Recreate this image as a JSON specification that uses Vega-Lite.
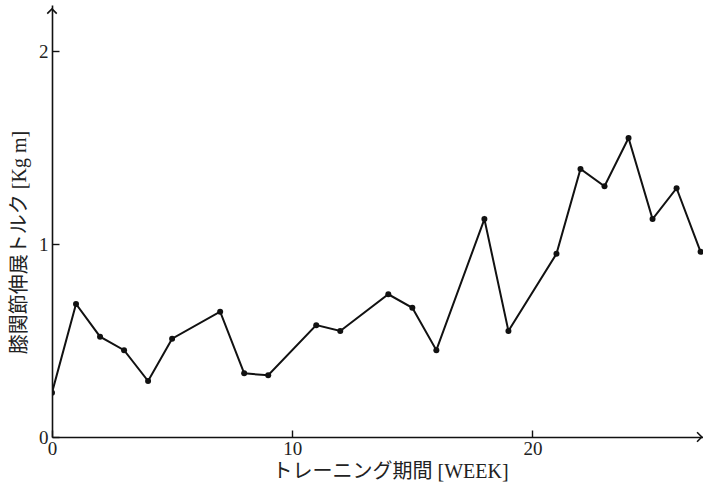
{
  "$schema": "https://vega.github.io/schema/vega-lite/v6.json",
  "width": 651,
  "height": 432,
  "autosize": {"type": "none"},
  "padding": {"left": 52, "top": 5, "right": 0, "bottom": 54},
  "background": "white",
  "config": {
    "view": {"stroke": null},
    "font": "Liberation Serif",
    "axis": {
      "domainColor": "#111",
      "domainWidth": 1.6,
      "tickColor": "#111",
      "tickWidth": 1.4,
      "grid": false,
      "labelColor": "#222",
      "titleColor": "#222",
      "labelFont": "Liberation Serif",
      "labelFontSize": 19,
      "labelFlush": false,
      "titleFont": "Liberation Serif, Noto Sans CJK JP",
      "titleFontSize": 20,
      "titleFontWeight": "normal"
    }
  },
  "datasets": {
    "torque": [
      {"week": 0, "torque": 0.23},
      {"week": 1, "torque": 0.69},
      {"week": 2, "torque": 0.52},
      {"week": 3, "torque": 0.45},
      {"week": 4, "torque": 0.29},
      {"week": 5, "torque": 0.51},
      {"week": 7, "torque": 0.65},
      {"week": 8, "torque": 0.33},
      {"week": 9, "torque": 0.32},
      {"week": 11, "torque": 0.58},
      {"week": 12, "torque": 0.55},
      {"week": 14, "torque": 0.74},
      {"week": 15, "torque": 0.67},
      {"week": 16, "torque": 0.45},
      {"week": 18, "torque": 1.13},
      {"week": 19, "torque": 0.55},
      {"week": 21, "torque": 0.95},
      {"week": 22, "torque": 1.39},
      {"week": 23, "torque": 1.3},
      {"week": 24, "torque": 1.55},
      {"week": 25, "torque": 1.13},
      {"week": 26, "torque": 1.29},
      {"week": 27, "torque": 0.96}
    ],
    "xarrow": [{"week": 27.05, "torque": 0}],
    "yarrow": [{"week": 0, "torque": 2.22}]
  },
  "layer": [
    {
      "data": {"name": "torque"},
      "mark": {"type": "line", "color": "#111", "strokeWidth": 2, "clip": true},
      "encoding": {
        "x": {
          "field": "week",
          "type": "quantitative",
          "scale": {"domain": [0, 27.1], "nice": false},
          "axis": {
            "values": [0, 10, 20],
            "format": "d",
            "tickSize": -7,
            "labelPadding": 9,
            "title": "トレーニング期間 [WEEK]",
            "titleX": 338,
            "titleY": 34,
            "titleBaseline": "middle",
            "titleAlign": "center"
          }
        },
        "y": {
          "field": "torque",
          "type": "quantitative",
          "scale": {"domain": [0, 2.24], "nice": false},
          "axis": {
            "values": [0, 1, 2],
            "format": "d",
            "tickSize": -7,
            "labelPadding": 11,
            "title": "膝関節伸展トルク [Kg m]",
            "titleX": -33,
            "titleY": 237,
            "titleBaseline": "middle",
            "titleAlign": "center",
            "titleAngle": -90
          }
        }
      }
    },
    {
      "data": {"name": "torque"},
      "mark": {"type": "point", "filled": true, "color": "#111", "size": 36, "opacity": 1, "clip": true},
      "encoding": {
        "x": {"field": "week", "type": "quantitative"},
        "y": {"field": "torque", "type": "quantitative"}
      }
    },
    {
      "data": {"name": "xarrow"},
      "mark": {"type": "point", "shape": "M-1,-1L0,0L-1,1", "filled": false, "color": "#111", "strokeWidth": 1.6, "size": 90, "opacity": 1},
      "encoding": {
        "x": {"field": "week", "type": "quantitative"},
        "y": {"field": "torque", "type": "quantitative"}
      }
    },
    {
      "data": {"name": "yarrow"},
      "mark": {"type": "point", "shape": "M-1,1L0,0L1,1", "filled": false, "color": "#111", "strokeWidth": 1.6, "size": 90, "opacity": 1},
      "encoding": {
        "x": {"field": "week", "type": "quantitative"},
        "y": {"field": "torque", "type": "quantitative"}
      }
    }
  ]
}
